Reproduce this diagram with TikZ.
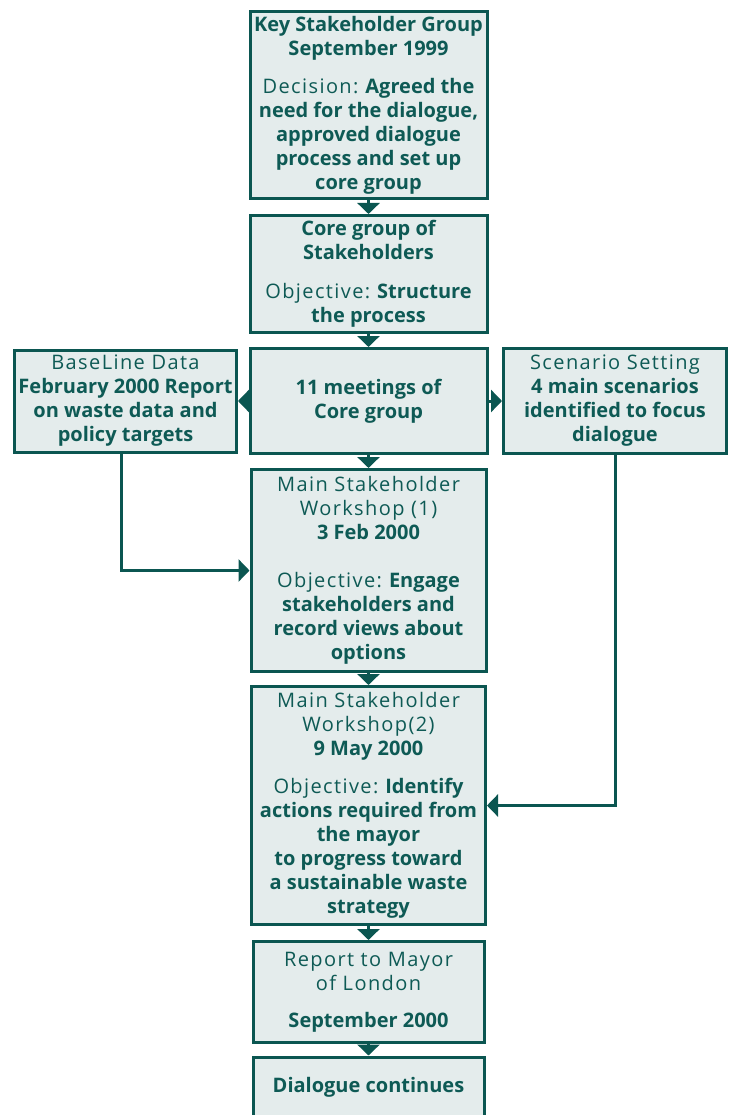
\documentclass[tikz,border=0pt]{standalone}
\usepackage{fontspec}
\setmainfont{Open Sans}
\usetikzlibrary{arrows.meta}
\definecolor{boxline}{HTML}{0B5651}
\definecolor{boxfill}{HTML}{E4ECEC}
\definecolor{boxtext}{HTML}{0E5A55}
\newcommand{\lt}[1]{{\mdseries\addfontfeature{LetterSpace=7}#1}}

\begin{document}
\begin{tikzpicture}[x=1pt,y=-1pt,
    stage/.style={draw=boxline,fill=boxfill,line width=3pt,text=boxtext,
      align=center,inner sep=0pt,font=\fontsize{20}{24}\selectfont\bfseries},
    flow/.style={draw=boxline,line width=3pt,-{Triangle[width=22pt,length=11pt]}}]
    \clip (0,0) rectangle (730,1115);
    % main column
    \node[stage,minimum width=237pt,minimum height=187pt] (key) at (368.5,105)
      {Key Stakeholder Group\\September 1999\\[14pt]
       \lt{Decision:} Agreed the\\need for the dialogue,\\
       approved dialogue\\process and set up\\core group};
    \node[stage,minimum width=237pt,minimum height=117pt] (core) at (368.5,274)
      {Core group of\\Stakeholders\\[15pt]
       \lt{Objective:} Structure\\the process};
    \node[stage,minimum width=237pt,minimum height=105pt] (meet) at (368.5,401)
      {11 meetings of\\Core group};
    \node[stage,minimum width=235pt,minimum height=202pt] (ws1) at (368.5,570.5)
      {\lt{Main Stakeholder}\\\lt{Workshop (1)}\\3 Feb 2000\\[24pt]
       \lt{Objective:} Engage\\stakeholders and\\
       record views about\\options};
    \node[stage,minimum width=234pt,minimum height=238pt] (ws2) at (368.5,805.5)
      {\lt{Main Stakeholder}\\\lt{Workshop(2)}\\9 May 2000\\[14pt]
       \lt{Objective:} Identify\\actions required from\\
       the mayor\\to progress toward\\
       a sustainable waste\\strategy};
    \node[stage,minimum width=231pt,minimum height=101pt] (rep) at (368.5,992)
      {\lt{Report to Mayor}\\\lt{of London}\\[13pt]September 2000};
    \node[stage,minimum width=231pt,minimum height=60pt] (dia) at (368.5,1087)
      {Dialogue continues};
    % side boxes
    \node[stage,minimum width=222pt,minimum height=102pt] (base) at (125.5,401)
      {\lt{BaseLine Data}\\February 2000 Report\\
       on waste data and\\policy targets};
    \node[stage,minimum width=223pt,minimum height=105pt] (scen) at (615,401)
      {\lt{Scenario Setting}\\4 main scenarios\\
       identified to focus\\dialogue};
    % connectors
    \draw[flow] (key) -- (core);
    \draw[flow] (core) -- (meet);
    \draw[flow] (meet) -- (base);
    \draw[flow] (meet) -- (scen);
    \draw[flow] (meet) -- (ws1);
    \draw[flow] (ws1) -- (ws2);
    \draw[flow] (ws2) -- (rep);
    \draw[flow] (rep) -- (dia);
    \draw[flow] ([xshift=-4pt]base.south) |- (ws1);
    \draw[flow] (scen) |- (ws2);
\end{tikzpicture}
\end{document}
